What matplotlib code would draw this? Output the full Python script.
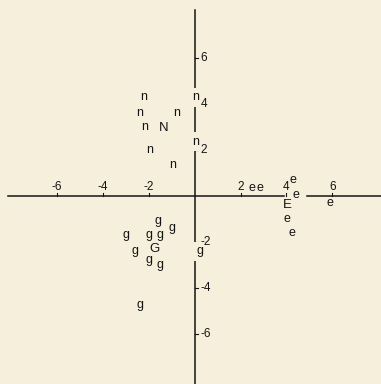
import matplotlib.pyplot as plt

# individual points (letter markers) and group centroids
n_x = [-2.22, -2.39, -0.78, -2.17, -1.96, -0.96, 0.04, 0.04]
n_y = [4.3, 3.6, 3.6, 3.0, 2.0, 1.35, 4.3, 2.35]
g_x = [-1.57, -0.96, -2.96, -2.0, -1.52, -2.57, -1.96, -1.52, 0.22, -2.39]
g_y = [-1.09, -1.39, -1.7, -1.7, -1.7, -2.39, -2.8, -3.0, -2.39, -4.74]
e_x = [2.48, 2.83, 4.26, 4.43, 5.87, 4.0, 4.22]
e_y = [0.35, 0.35, 0.7, 0.04, -0.3, -1.0, -1.6]
centroid_labels = ["N", "G", "E"]
centroid_x = [-1.35, -1.74, 4.04]
centroid_y = [2.96, -2.3, -0.39]
ticks = [-6, -4, -2, 2, 4, 6]

bg = "#f6efdc"
ink = "#141414"

fig = plt.figure(figsize=(3.81, 3.84), dpi=100)
fig.patch.set_facecolor(bg)
ax = fig.add_axes([0, 0, 1, 1])
ax.set_facecolor(bg)
ax.set_xlim(-8.46, 8.11)
ax.set_ylim(-8.17, 8.52)
ax.axis("off")

# axes through origin (x axis broken near 4..5)
ax.plot([-8.1, 3.9], [0, 0], color=ink, lw=1.1, zorder=1)
ax.plot([4.9, 8.11], [0, 0], color=ink, lw=1.1, zorder=1)
ax.plot([0, 0], [-8.17, 8.09], color=ink, lw=1.1, zorder=1)

fs = 8.5
font = "Liberation Sans"
for t in ticks:
    ax.plot([t, t], [0, 0.13], color=ink, lw=0.8, zorder=1)
    ax.plot([0, 0.13], [t, t], color=ink, lw=0.8, zorder=1)
    ax.text(t, 0.15, str(t), ha="center", va="bottom", fontsize=fs,
            family=font, color=ink, zorder=5)
    ax.text(0.25, t, str(t), ha="left", va="center", fontsize=fs,
            family=font, color=ink, zorder=5)

# letters sitting on the vertical axis break the line
box = dict(facecolor=bg, edgecolor="none", pad=2.5)
for xs, ys, ch in [(n_x, n_y, "n"), (g_x, g_y, "g"), (e_x, e_y, "e")]:
    for x, y in zip(xs, ys):
        ax.text(x, y, ch, ha="center", va="center", fontsize=fs + 0.5,
                family=font, color=ink,
                bbox=box if abs(x) < 0.5 else None, zorder=3)

for lab, x, y in zip(centroid_labels, centroid_x, centroid_y):
    ax.text(x, y, lab, ha="center", va="center", fontsize=fs + 1,
            family=font, color=ink, zorder=4)

fig.savefig("out.png", dpi=100, facecolor=bg)
